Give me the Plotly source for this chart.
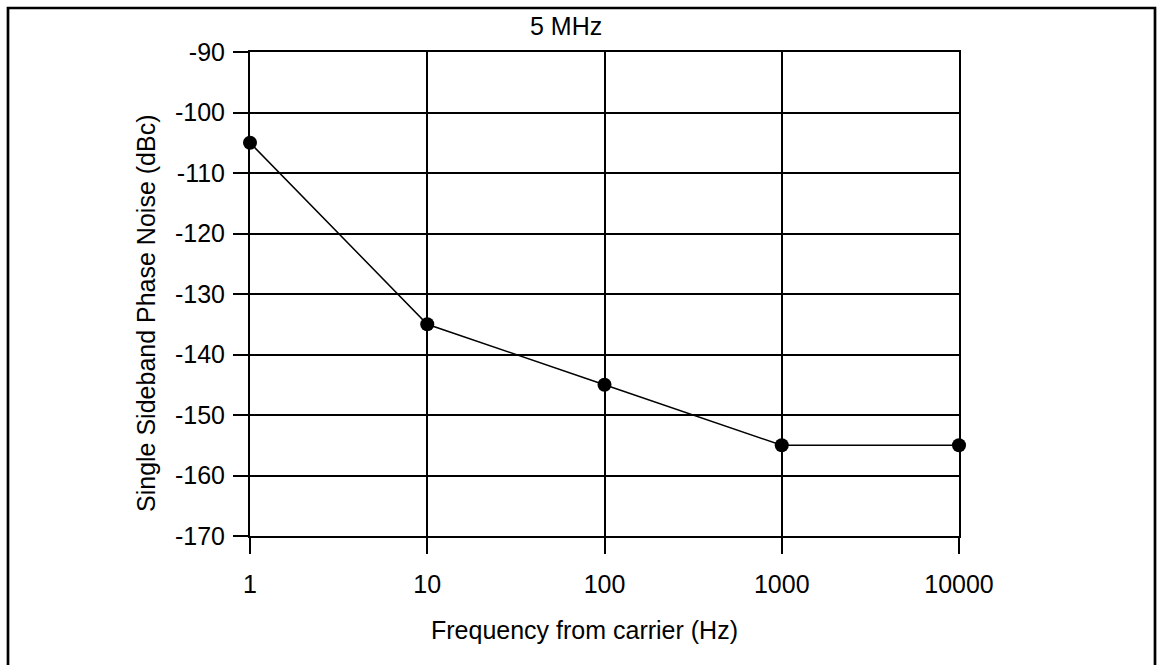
import plotly.graph_objects as go

# Data
freq_hz = [1, 10, 100, 1000, 10000]
phase_noise_dbc = [-105, -135, -145, -155, -155]
x_tick_vals = [1, 10, 100, 1000, 10000]
x_tick_text = ["1", "10", "100", "1000", "10000"]
y_tick_vals = [-90, -100, -110, -120, -130, -140, -150, -160, -170]
y_tick_text = [str(v) for v in y_tick_vals]

FONT = "Liberation Sans, Arial, sans-serif"
FS = 25

fig = go.Figure()
fig.add_trace(go.Scatter(
    x=freq_hz, y=phase_noise_dbc, mode="lines+markers",
    line=dict(color="black", width=1.5),
    marker=dict(color="black", size=14),
    showlegend=False, cliponaxis=False,
))

W, H = 1157, 665
L, R, T, B = 250, 198, 52, 129
pw, ph = W - L - R, H - T - B

def px(x):
    return (x - L) / pw

def py(y):
    return (H - B - y) / ph

fig.update_layout(
    width=W, height=H, autosize=False,
    margin=dict(l=L, r=R, t=T, b=B, pad=0),
    paper_bgcolor="white", plot_bgcolor="white",
    font=dict(family=FONT, size=FS, color="black"),
    xaxis=dict(
        type="log", range=[0, 4],
        tickvals=x_tick_vals, ticktext=x_tick_text,
        showgrid=True, gridcolor="black", gridwidth=2,
        showline=True, linecolor="black", linewidth=2, mirror=True,
        ticks="outside", ticklen=16, tickwidth=2, tickcolor="black",
        ticklabelstandoff=9, zeroline=False,
        tickfont=dict(family=FONT, size=FS, color="black"),
    ),
    yaxis=dict(
        range=[-170, -90],
        tickvals=y_tick_vals, ticktext=y_tick_text,
        showgrid=True, gridcolor="black", gridwidth=2,
        showline=True, linecolor="black", linewidth=2, mirror=True,
        ticks="outside", ticklen=15, tickwidth=2, tickcolor="black",
        ticklabelstandoff=3, zeroline=False,
        tickfont=dict(family=FONT, size=FS, color="black"),
    ),
    shapes=[dict(
        type="rect", xref="paper", yref="paper",
        x0=px(8), x1=px(1155), y0=py(690), y1=py(8),
        line=dict(color="black", width=2.7), fillcolor="rgba(0,0,0,0)",
        layer="above",
    )],
    annotations=[
        dict(text="5 MHz", xref="paper", yref="paper", x=px(566), y=py(26),
             xanchor="center", yanchor="middle", showarrow=False,
             font=dict(family=FONT, size=FS, color="black")),
        dict(text="Frequency from carrier (Hz)", xref="paper", yref="paper",
             x=px(584), y=py(630), xanchor="center", yanchor="middle",
             showarrow=False, font=dict(family=FONT, size=FS, color="black")),
        dict(text="Single Sideband Phase Noise (dBc)", xref="paper", yref="paper",
             x=px(146), y=py(314), xanchor="center", yanchor="middle",
             textangle=-90, showarrow=False,
             font=dict(family=FONT, size=FS, color="black")),
    ],
)

fig.write_html("out.html")
